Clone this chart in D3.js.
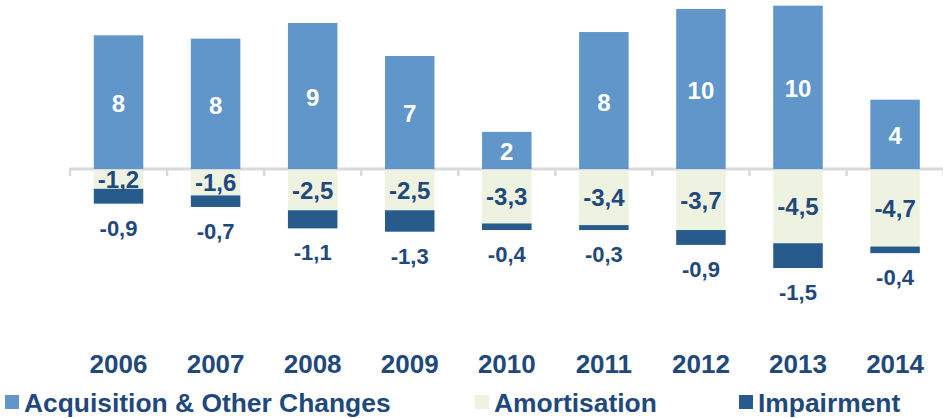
<!DOCTYPE html>
<html>
<head>
<meta charset="utf-8">
<script src="https://cdn.jsdelivr.net/npm/d3@7"></script>
<style>
  html, body { margin: 0; padding: 0; background: #fff; }
  svg { display: block; font-family: "Liberation Sans", Arial, sans-serif; font-weight: bold; }
</style>
</head>
<body>
<svg id="chart" width="943" height="418"></svg>
<script>
const years = ["2006", "2007", "2008", "2009", "2010", "2011", "2012", "2013", "2014"];
const acquisition = [8.1, 7.9, 8.85, 6.85, 2.25, 8.3, 9.7, 9.9, 4.2];
const amortisation = [-1.2, -1.6, -2.5, -2.5, -3.3, -3.4, -3.7, -4.5, -4.7];
const impairment = [-0.9, -0.7, -1.1, -1.3, -0.4, -0.3, -0.9, -1.5, -0.4];
const seriesNames = ["Acquisition & Other Changes", "Amortisation", "Impairment"];
const colors = ["#6096C9", "#EEF2E1", "#275B8C"];
const textColor = "#1F497D";

const svg = d3.select("#chart");

const x = d3.scaleBand().domain(years).range([70, 943.6]).paddingInner(0.49).paddingOuter(0.245);
const y = d3.scaleLinear().domain([-6, 10.25]).range([169 + 6 * 16.5, 169 - 10.25 * 16.5]);

const fmt = v => d3.format(".1f")(v).replace(".", ",").replace("−", "-");

// axis line at zero with ticks between categories
const axis = svg.append("g");
const y0 = y(0);
axis.append("line").attr("x1", 69).attr("x2", 943).attr("y1", y0).attr("y2", y0)
  .attr("stroke", "#D9D9D9").attr("stroke-width", 3);
const step = x.step();
const bounds = d3.range(years.length + 1).map(i => x.range()[0] + i * step);
axis.selectAll("line.tick").data(bounds).join("line").attr("class", "tick")
  .attr("x1", d => d).attr("x2", d => d).attr("y1", y0).attr("y2", y0 + 7)
  .attr("stroke", "#D9D9D9").attr("stroke-width", 2.5);

const bw = x.bandwidth();

// acquisition bars
svg.selectAll("rect.acq").data(years).join("rect").attr("class", "acq")
  .attr("x", d => x(d)).attr("width", bw)
  .attr("y", (d, i) => y(acquisition[i])).attr("height", (d, i) => y(0) - y(acquisition[i]))
  .attr("fill", colors[0]);

// amortisation bars
svg.selectAll("rect.amo").data(years).join("rect").attr("class", "amo")
  .attr("x", d => x(d)).attr("width", bw)
  .attr("y", y(0) + 1.5).attr("height", (d, i) => y(amortisation[i]) - y(0) - 1.5)
  .attr("fill", colors[1]);

// impairment bars
svg.selectAll("rect.imp").data(years).join("rect").attr("class", "imp")
  .attr("x", d => x(d)).attr("width", bw)
  .attr("y", (d, i) => y(amortisation[i]))
  .attr("height", (d, i) => y(amortisation[i] + impairment[i]) - y(amortisation[i]))
  .attr("fill", colors[2]);

// acquisition labels
svg.selectAll("text.acq").data(years).join("text").attr("class", "acq")
  .attr("x", d => x(d) + bw / 2)
  .attr("y", (d, i) => (y(acquisition[i]) + y(0)) / 2 + 10)
  .attr("text-anchor", "middle").attr("font-size", 24).attr("fill", "#fff")
  .text((d, i) => Math.round(acquisition[i]));

// amortisation labels
svg.selectAll("text.amo").data(years).join("text").attr("class", "amo")
  .attr("x", d => x(d) + bw / 2)
  .attr("y", (d, i) => (y(amortisation[i]) + y(0)) / 2 + 9)
  .attr("text-anchor", "middle").attr("font-size", 24).attr("fill", textColor)
  .text((d, i) => fmt(amortisation[i]));

// impairment labels
svg.selectAll("text.imp").data(years).join("text").attr("class", "imp")
  .attr("x", d => x(d) + bw / 2)
  .attr("y", (d, i) => y(amortisation[i] + impairment[i]) + 32)
  .attr("text-anchor", "middle").attr("font-size", 22).attr("fill", textColor)
  .text((d, i) => fmt(impairment[i]));

// year labels
svg.selectAll("text.year").data(years).join("text").attr("class", "year")
  .attr("x", d => x(d) + bw / 2).attr("y", 373)
  .attr("text-anchor", "middle").attr("font-size", 26).attr("fill", textColor)
  .text(d => d);

// legend
const legendX = [5, 475, 739];
const lg = svg.selectAll("g.legend").data(seriesNames).join("g").attr("class", "legend")
  .attr("transform", (d, i) => `translate(${legendX[i]},0)`);
lg.append("rect").attr("x", 0).attr("y", 395).attr("width", 14).attr("height", 14)
  .attr("fill", (d, i) => colors[i]);
lg.append("text").attr("x", 19).attr("y", 412).attr("font-size", 26.4).attr("fill", textColor)
  .text(d => d);
</script>
</body>
</html>
